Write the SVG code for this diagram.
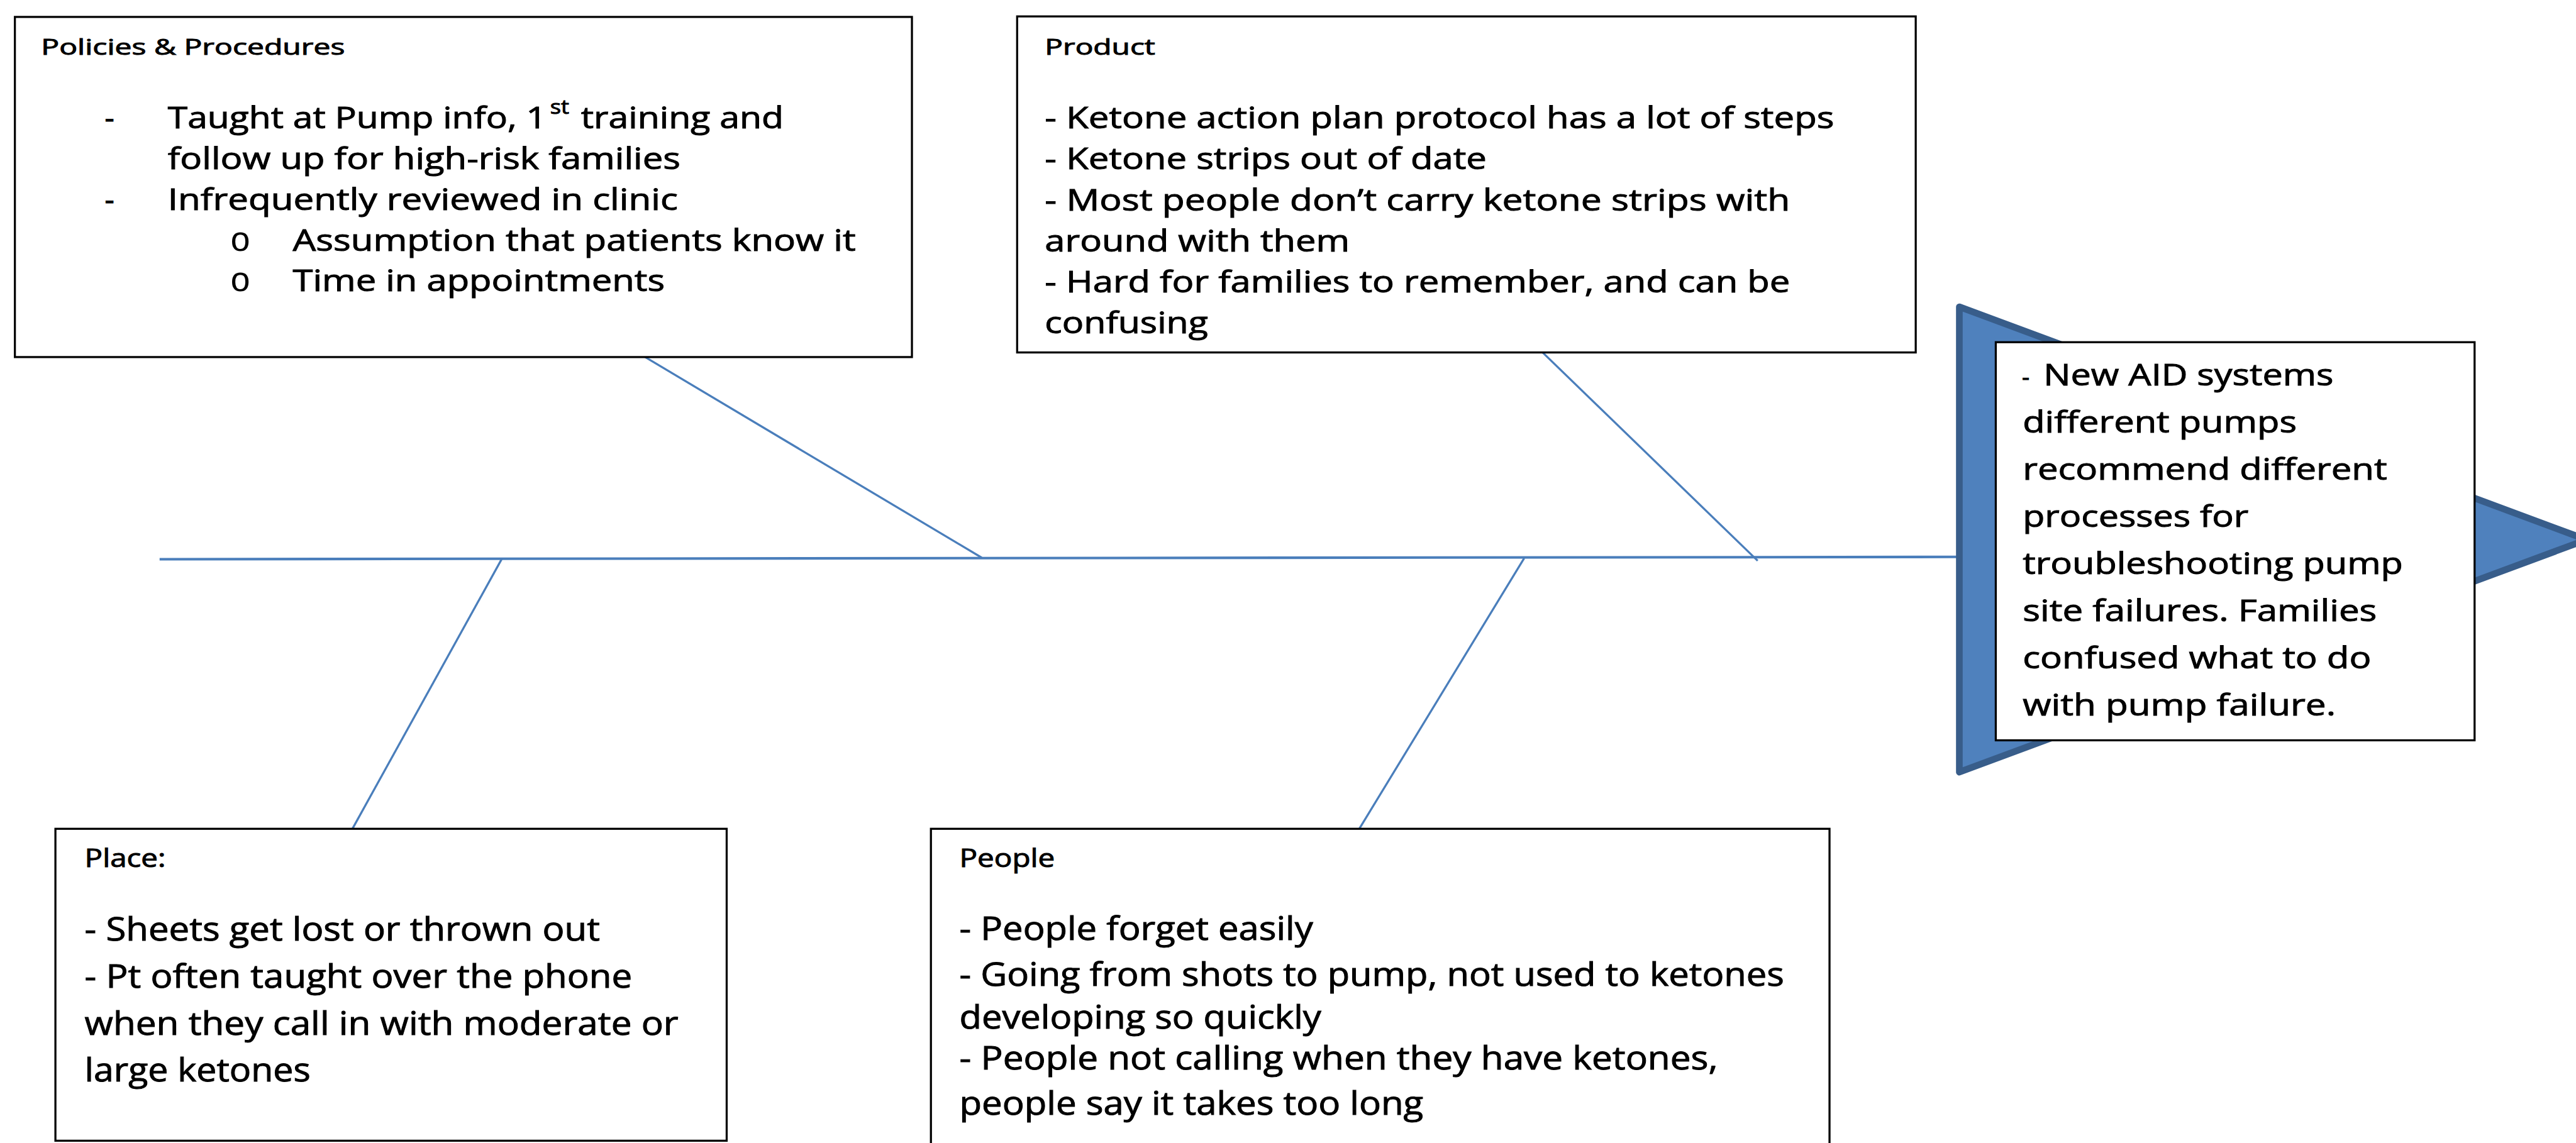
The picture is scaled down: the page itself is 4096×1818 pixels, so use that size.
<svg xmlns="http://www.w3.org/2000/svg" width="4096" height="1818" viewBox="0 0 4096 1818">
<style>
.box{fill:#fff;stroke:#000;stroke-width:4}
.t{font-family:"Open Sans","Liberation Sans",sans-serif;fill:#000;stroke:#000;stroke-width:1.2}
.h1{font-size:43px}
.b1{font-size:58px}
.h2{font-size:49px}
.b2{font-size:63px}
.sup{font-size:38px}
.mono{font-family:"Liberation Mono",monospace;font-size:68px;fill:#000}
.bone{stroke:#4A7EBB;stroke-width:4;fill:none}
.spine{stroke:#4A7EBB;stroke-width:5;fill:none}
.head{fill:#4F81BD;stroke:#385D8A;stroke-width:13;stroke-linejoin:round}
</style>
<rect width="4096" height="1818" fill="#fff"/>
<g transform="scale(0.816)">
<g id="connectors">
<line class="spine" x1="311" y1="1090" x2="3815" y2="1085.5"/>
<line class="bone" x1="1257" y1="696" x2="1913" y2="1087"/>
<line class="bone" x1="3006" y1="687" x2="3425" y2="1093"/>
<line class="bone" x1="978" y1="1089" x2="687" y2="1615"/>
<line class="bone" x1="2970" y1="1088" x2="2649" y2="1615"/>
</g>
<g id="head">
<path class="head" d="M3818,598 L5040,1052 L3818,1505 Z"/>
</g>
<g id="policies">
<rect class="box" x="29" y="33" width="1748" height="663"/>
<text class="t h1" x="80" y="106.5" textLength="592" lengthAdjust="spacingAndGlyphs">Policies &amp; Procedures</text>
<text class="t b1" x="204" y="250">-</text>
<text class="t b1" x="327" y="250" textLength="738" lengthAdjust="spacingAndGlyphs">Taught at Pump info, 1</text>
<text class="t sup" x="1072" y="222" textLength="37" lengthAdjust="spacingAndGlyphs">st</text>
<text class="t b1" x="1132" y="250" textLength="395" lengthAdjust="spacingAndGlyphs">training and</text>
<text class="t b1" x="327" y="330" textLength="999" lengthAdjust="spacingAndGlyphs">follow up for high-risk families</text>
<text class="t b1" x="204" y="409">-</text>
<text class="t b1" x="327" y="409" textLength="994" lengthAdjust="spacingAndGlyphs">Infrequently reviewed in clinic</text>
<text class="mono" x="448" y="489">o</text>
<text class="t b1" x="570.5" y="489" textLength="1097" lengthAdjust="spacingAndGlyphs">Assumption that patients know it</text>
<text class="mono" x="448" y="568">o</text>
<text class="t b1" x="570.5" y="568" textLength="725" lengthAdjust="spacingAndGlyphs">Time in appointments</text>
</g>
<g id="product">
<rect class="box" x="1982" y="32" width="1751" height="655"/>
<text class="t h1" x="2036" y="106.5" textLength="215" lengthAdjust="spacingAndGlyphs">Product</text>
<text class="t b1" x="2036" y="250" textLength="1538" lengthAdjust="spacingAndGlyphs">- Ketone action plan protocol has a lot of steps</text>
<text class="t b1" x="2036" y="330" textLength="861" lengthAdjust="spacingAndGlyphs">- Ketone strips out of date</text>
<text class="t b1" x="2036" y="410" textLength="1452" lengthAdjust="spacingAndGlyphs">- Most people don’t carry ketone strips with</text>
<text class="t b1" x="2036" y="490" textLength="594" lengthAdjust="spacingAndGlyphs">around with them</text>
<text class="t b1" x="2036" y="570" textLength="1452" lengthAdjust="spacingAndGlyphs">- Hard for families to remember, and can be</text>
<text class="t b1" x="2036" y="650" textLength="318" lengthAdjust="spacingAndGlyphs">confusing</text>
</g>
<g id="place">
<rect class="box" x="108" y="1615.5" width="1308" height="608"/>
<text class="t h2" x="165" y="1690" textLength="158" lengthAdjust="spacingAndGlyphs">Place:</text>
<text class="t b2" x="165" y="1833" textLength="1004" lengthAdjust="spacingAndGlyphs">- Sheets get lost or thrown out</text>
<text class="t b2" x="165" y="1925" textLength="1067" lengthAdjust="spacingAndGlyphs">- Pt often taught over the phone</text>
<text class="t b2" x="165" y="2017" textLength="1157" lengthAdjust="spacingAndGlyphs">when they call in with moderate or</text>
<text class="t b2" x="165" y="2108" textLength="440" lengthAdjust="spacingAndGlyphs">large ketones</text>
</g>
<g id="people">
<rect class="box" x="1814" y="1615.5" width="1751" height="640"/>
<text class="t h2" x="1869.5" y="1690" textLength="186" lengthAdjust="spacingAndGlyphs">People</text>
<text class="t b2" x="1869.5" y="1832" textLength="689" lengthAdjust="spacingAndGlyphs">- People forget easily</text>
<text class="t b2" x="1869.5" y="1922" textLength="1607" lengthAdjust="spacingAndGlyphs">- Going from shots to pump, not used to ketones</text>
<text class="t b2" x="1869.5" y="2005" textLength="705" lengthAdjust="spacingAndGlyphs">developing so quickly</text>
<text class="t b2" x="1869.5" y="2085" textLength="1478" lengthAdjust="spacingAndGlyphs">- People not calling when they have ketones,</text>
<text class="t b2" x="1869.5" y="2173" textLength="904" lengthAdjust="spacingAndGlyphs">people say it takes too long</text>
</g>
<g id="problem">
<rect class="box" x="3889" y="667" width="933" height="776"/>
<text class="t" x="3940" y="751" font-size="46">-</text>
<text class="t b1" x="3982" y="751" textLength="565" lengthAdjust="spacingAndGlyphs">New AID systems</text>
<text class="t b1" x="3941.5" y="843" textLength="534" lengthAdjust="spacingAndGlyphs">different pumps</text>
<text class="t b1" x="3941.5" y="935" textLength="710" lengthAdjust="spacingAndGlyphs">recommend different</text>
<text class="t b1" x="3941.5" y="1027" textLength="440" lengthAdjust="spacingAndGlyphs">processes for</text>
<text class="t b1" x="3941.5" y="1119" textLength="741" lengthAdjust="spacingAndGlyphs">troubleshooting pump</text>
<text class="t b1" x="3941.5" y="1211" textLength="690" lengthAdjust="spacingAndGlyphs">site failures. Families</text>
<text class="t b1" x="3941.5" y="1303" textLength="679" lengthAdjust="spacingAndGlyphs">confused what to do</text>
<text class="t b1" x="3941.5" y="1395" textLength="610" lengthAdjust="spacingAndGlyphs">with pump failure.</text>
</g>
</g>
</svg>
